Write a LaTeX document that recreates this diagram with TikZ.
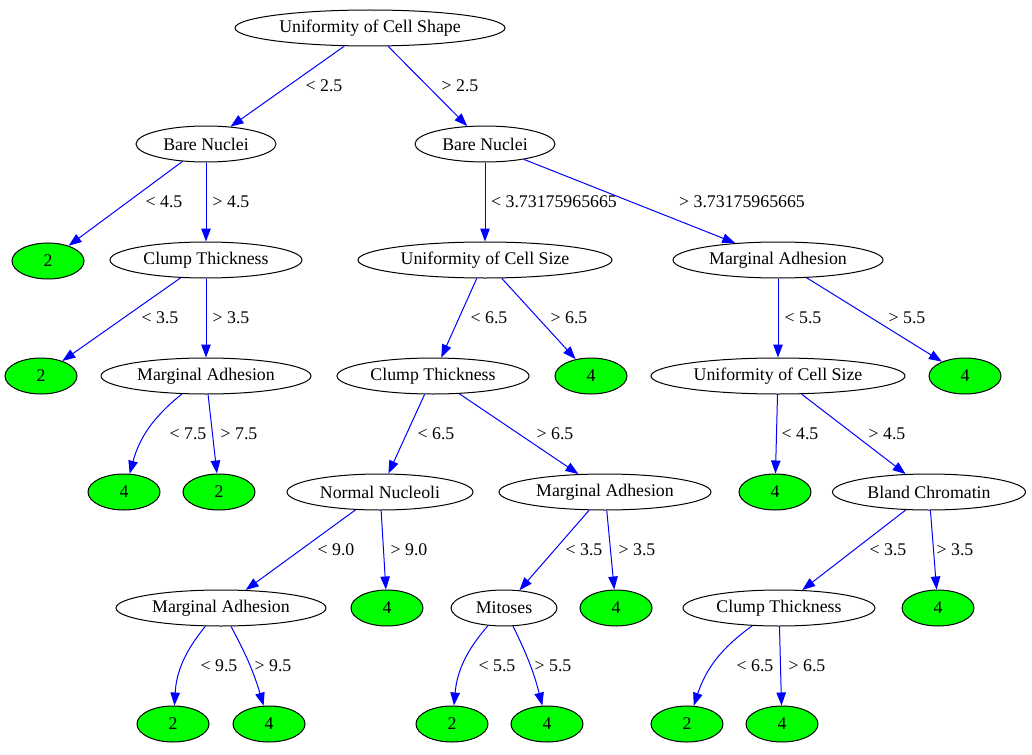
\documentclass[tikz,border=0pt]{standalone}
\usepackage{fontspec}
\setmainfont{Liberation Serif}
\usepackage{tikz}
\usetikzlibrary{shapes.geometric, arrows.meta}
\definecolor{leafgreen}{rgb}{0,1,0}
\definecolor{edgeblue}{rgb}{0,0,1}

\begin{document}
\begin{tikzpicture}[x=1bp, y=-1bp,
    split/.style={ellipse, draw, line width=1bp, inner sep=0pt, minimum height=36bp, font=\fontsize{17.8bp}{20bp}\selectfont},
    leaf/.style={ellipse, draw, line width=1bp, fill=leafgreen, inner sep=0pt, minimum width=72bp, minimum height=36bp, font=\fontsize{17.8bp}{20bp}\selectfont},
    edge/.style={-{Triangle[length=13bp, width=9.5bp]}, draw=edgeblue, line width=1bp},
    lbl/.style={font=\fontsize{17.8bp}{20bp}\selectfont, inner sep=0pt}
]
\useasboundingbox (0,0) rectangle (1032,755);

% level 0
\node[split, minimum width=270bp] (shape) at (370,28) {Uniformity of Cell Shape};

% level 1
\node[split, minimum width=140bp] (nucL) at (206,144) {Bare Nuclei};
\node[split, minimum width=140bp] (nucR) at (485,144) {Bare Nuclei};

% level 2
\node[leaf] (l2a) at (48,261) {2};
\node[split, minimum width=192bp] (clumpA) at (206,260) {Clump Thickness};
\node[split, minimum width=254bp] (sizeA) at (485,260) {Uniformity of Cell Size};
\node[split, minimum width=210bp] (adhA) at (778,260) {Marginal Adhesion};

% level 3
\node[leaf] (l2b) at (41,376) {2};
\node[split, minimum width=210bp] (adhB) at (206,376) {Marginal Adhesion};
\node[split, minimum width=192bp] (clumpB) at (433,376) {Clump Thickness};
\node[leaf] (l4a) at (591,376) {4};
\node[split, minimum width=254bp] (sizeB) at (778,376) {Uniformity of Cell Size};
\node[leaf] (l4b) at (965,376) {4};

% level 4
\node[leaf] (l4c) at (124,492) {4};
\node[leaf] (l2c) at (219,492) {2};
\node[split, minimum width=186bp] (nucleoli) at (380,492) {Normal Nucleoli};
\node[split, minimum width=212bp] (adhC) at (605,492) {Marginal Adhesion};
\node[leaf] (l4d) at (775,492) {4};
\node[split, minimum width=193bp] (chrom) at (929,492) {Bland Chromatin};

% level 5
\node[split, minimum width=210bp] (adhD) at (221,608) {Marginal Adhesion};
\node[leaf] (l4e) at (387,608) {4};
\node[split, minimum width=106bp] (mitoses) at (504,608) {Mitoses};
\node[leaf] (l4f) at (616,608) {4};
\node[split, minimum width=192bp] (clumpC) at (779,608) {Clump Thickness};
\node[leaf] (l4g) at (938,608) {4};

% level 6
\node[leaf] (l2d) at (173,724) {2};
\node[leaf] (l4h) at (269,724) {4};
\node[leaf] (l2e) at (452,724) {2};
\node[leaf] (l4i) at (547,724) {4};
\node[leaf] (l2f) at (687,724) {2};
\node[leaf] (l4j) at (782,724) {4};

% edges
\draw[edge] (shape) -- (nucL) node[lbl] at (324,86) {< 2.5};
\draw[edge] (shape) -- (nucR) node[lbl] at (460,86) {> 2.5};

\draw[edge] (nucL) -- (l2a) node[lbl] at (164,202) {< 4.5};
\draw[edge] (nucL) -- (clumpA) node[lbl] at (231,202) {> 4.5};
\draw[edge] (nucR) -- (sizeA) node[lbl] at (554,202) {< 3.73175965665};
\draw[edge] (nucR) -- (adhA) node[lbl] at (742,202) {> 3.73175965665};

\draw[edge] (clumpA) -- (l2b) node[lbl] at (160,318) {< 3.5};
\draw[edge] (clumpA) -- (adhB) node[lbl] at (231,318) {> 3.5};
\draw[edge] (sizeA) -- (clumpB) node[lbl] at (489,318) {< 6.5};
\draw[edge] (sizeA) -- (l4a) node[lbl] at (569,318) {> 6.5};
\draw[edge] (adhA) -- (sizeB) node[lbl] at (803,318) {< 5.5};
\draw[edge] (adhA) -- (l4b) node[lbl] at (907,318) {> 5.5};

\draw[edge] (adhB) to[bend right=18] (l4c) node[lbl] at (188,434) {< 7.5};
\draw[edge] (adhB) -- (l2c) node[lbl] at (239,434) {> 7.5};
\draw[edge] (clumpB) -- (nucleoli) node[lbl] at (436,434) {< 6.5};
\draw[edge] (clumpB) -- (adhC) node[lbl] at (555,434) {> 6.5};
\draw[edge] (sizeB) -- (l4d) node[lbl] at (800,434) {< 4.5};
\draw[edge] (sizeB) -- (chrom) node[lbl] at (887,434) {> 4.5};

\draw[edge] (nucleoli) -- (adhD) node[lbl] at (336,550) {< 9.0};
\draw[edge] (nucleoli) -- (l4e) node[lbl] at (409,550) {> 9.0};
\draw[edge] (adhC) -- (mitoses) node[lbl] at (584,550) {< 3.5};
\draw[edge] (adhC) -- (l4f) node[lbl] at (637,550) {> 3.5};
\draw[edge] (chrom) -- (clumpC) node[lbl] at (888,550) {< 3.5};
\draw[edge] (chrom) -- (l4g) node[lbl] at (955,550) {> 3.5};

\draw[edge] (adhD) to[bend right=18] (l2d) node[lbl] at (219,666) {< 9.5};
\draw[edge] (adhD) to[bend left=6] (l4h) node[lbl] at (273,666) {> 9.5};
\draw[edge] (mitoses) to[bend right=18] (l2e) node[lbl] at (497,666) {< 5.5};
\draw[edge] (mitoses) to[bend left=6] (l4i) node[lbl] at (553,666) {> 5.5};
\draw[edge] (clumpC) to[bend right=18] (l2f) node[lbl] at (755,666) {< 6.5};
\draw[edge] (clumpC) -- (l4j) node[lbl] at (807,666) {> 6.5};

\end{tikzpicture}
\end{document}
